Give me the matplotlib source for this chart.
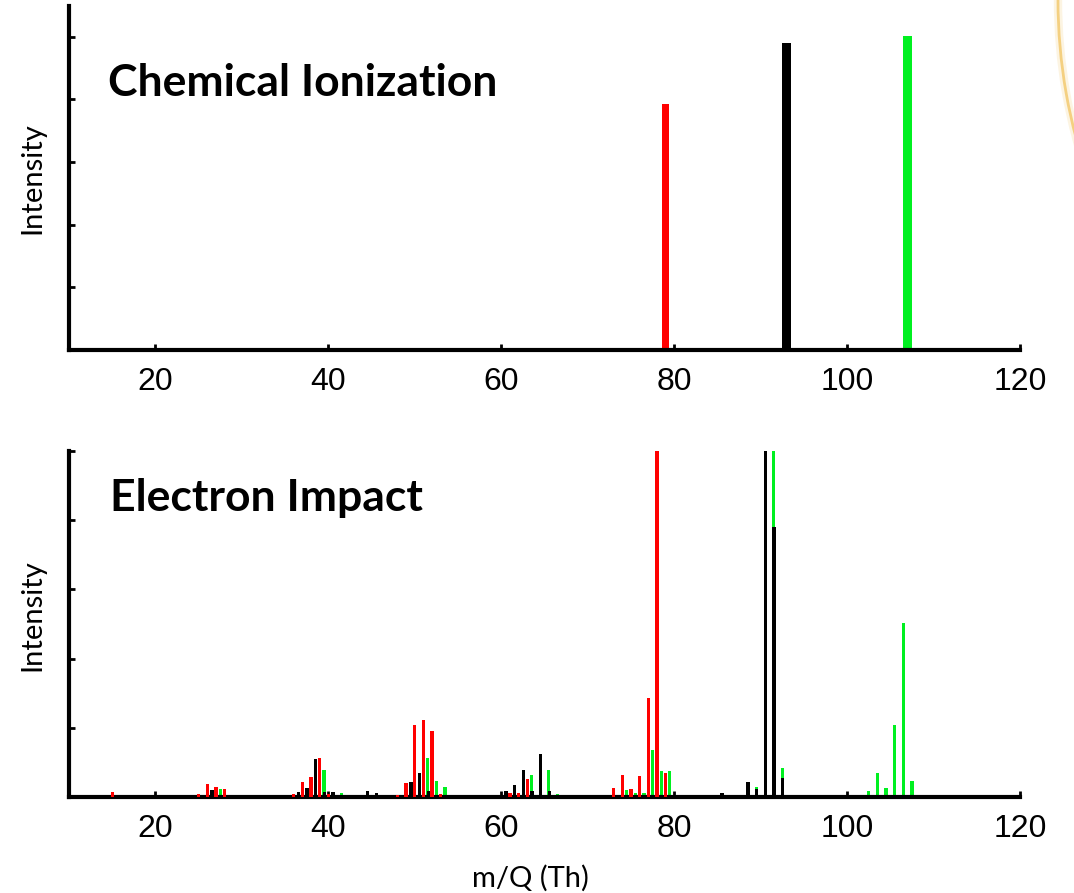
import matplotlib
matplotlib.use('Agg')
import matplotlib.pyplot as plt
from matplotlib.patches import Arc
from matplotlib.transforms import IdentityTransform

# ---- Chemical Ionization (top), one peak per compound
ci_mz_red = [79]
ci_int_red = [3.92]
ci_mz_black = [93]
ci_int_black = [4.90]
ci_mz_green = [107]
ci_int_green = [5.01]

# ---- Electron Impact (bottom)
ei_mz_red = [15, 25, 26, 27, 28, 36, 37, 38, 39, 40, 48, 49, 50, 51, 52, 53,
             61, 62, 63, 73, 74, 75, 76, 77, 78, 79]
ei_int_red = [0.07, 0.04, 0.19, 0.14, 0.12, 0.04, 0.22, 0.29, 0.56, 0.04, 0.03, 0.20,
              1.04, 1.11, 0.95, 0.04, 0.06, 0.06, 0.26, 0.13, 0.32, 0.12, 0.30, 1.43,
              6.5, 0.34]

ei_mz_black = [26, 27, 37, 38, 39, 40, 41, 45, 46, 49, 50, 51, 52, 53, 61, 62, 63,
               64, 65, 66, 74, 75, 77, 86, 89, 90, 91, 92, 93]
ei_int_black = [0.03, 0.10, 0.07, 0.13, 0.55, 0.07, 0.07, 0.09, 0.06, 0.03, 0.22, 0.34,
                0.09, 0.03, 0.09, 0.17, 0.39, 0.09, 0.62, 0.09, 0.03, 0.03, 0.03, 0.06,
                0.21, 0.12, 6.3, 3.90, 0.28]

ei_mz_green = [27, 39, 41, 51, 52, 53, 63, 65, 66, 74, 75, 76, 77, 78, 79, 89, 91, 92,
               102, 103, 104, 105, 106, 107]
ei_int_green = [0.12, 0.39, 0.06, 0.56, 0.23, 0.14, 0.32, 0.39, 0.04, 0.10, 0.06, 0.06,
                0.68, 0.38, 0.38, 0.14, 6.0, 0.42, 0.09, 0.35, 0.13, 1.04, 2.51, 0.23]

xticks = [20, 40, 60, 80, 100, 120]

RED = '#ff0000'
BLACK = '#000000'
GREEN = '#00f020'

fig = plt.figure(figsize=(10.74, 8.93), dpi=100)
ax_ci = fig.add_axes([0.0642, 0.6081, 0.8855, 0.3852])
ax_ei = fig.add_axes([0.0642, 0.1075, 0.8855, 0.3875])


def style_axis(ax, ymax):
    ax.set_xlim(10, 120)
    ax.set_ylim(0, ymax)
    for s in ['top', 'right']:
        ax.spines[s].set_visible(False)
    for s in ['left', 'bottom']:
        ax.spines[s].set_linewidth(3)
    ax.set_xticks(xticks)
    ax.set_yticks([1, 2, 3, 4, 5])
    ax.set_yticklabels([])
    ax.tick_params(direction='in', length=4, width=2, labelsize=23, pad=12)
    for lab in ax.get_xticklabels():
        lab.set_fontfamily('Liberation Sans')


# top: CI bars
ax_ci.bar(ci_mz_red, ci_int_red, width=0.8, color=RED)
ax_ci.bar(ci_mz_black, ci_int_black, width=0.95, color=BLACK)
ax_ci.bar(ci_mz_green, ci_int_green, width=0.95, color=GREEN)
style_axis(ax_ci, 5.49)

# bottom: EI bars (green under black, each compound slightly offset)
w = 0.38
ax_ei.bar([m + 0.5 for m in ei_mz_green], ei_int_green, width=w, color=GREEN, zorder=2)
ax_ei.bar([m - 0.45 for m in ei_mz_black], ei_int_black, width=w, color=BLACK, zorder=3)
ax_ei.bar(ei_mz_red, ei_int_red, width=w, color=RED, zorder=4)
style_axis(ax_ei, 5.0)

# titles and labels
fig.text(0.1005, 0.8925, 'Chemical Ionization', fontsize=32, fontweight='bold',
         family='Lato', va='baseline', ha='left')
fig.text(0.1025, 0.428, 'Electron Impact', fontsize=32, fontweight='bold',
         family='Lato', va='baseline', ha='left')
fig.text(0.030, 0.80, 'Intensity', rotation=90, fontsize=21, family='Lato',
         ha='center', va='center')
fig.text(0.030, 0.311, 'Intensity', rotation=90, fontsize=21, family='Lato',
         ha='center', va='center')
fig.text(0.494, 0.017, 'm/Q (Th)', fontsize=21, family='Lato', ha='center', va='center')

# faint decorative arc at the top right corner (pixel coordinates)
for lw, a in [(6, 0.15), (2, 0.6)]:
    arc = Arc((1594, 893), 1072, 1072, theta1=180, theta2=200,
              transform=IdentityTransform(), color='#f0b840', lw=lw, alpha=a)
    fig.patches.append(arc)

fig.savefig('out.png', dpi=100)
